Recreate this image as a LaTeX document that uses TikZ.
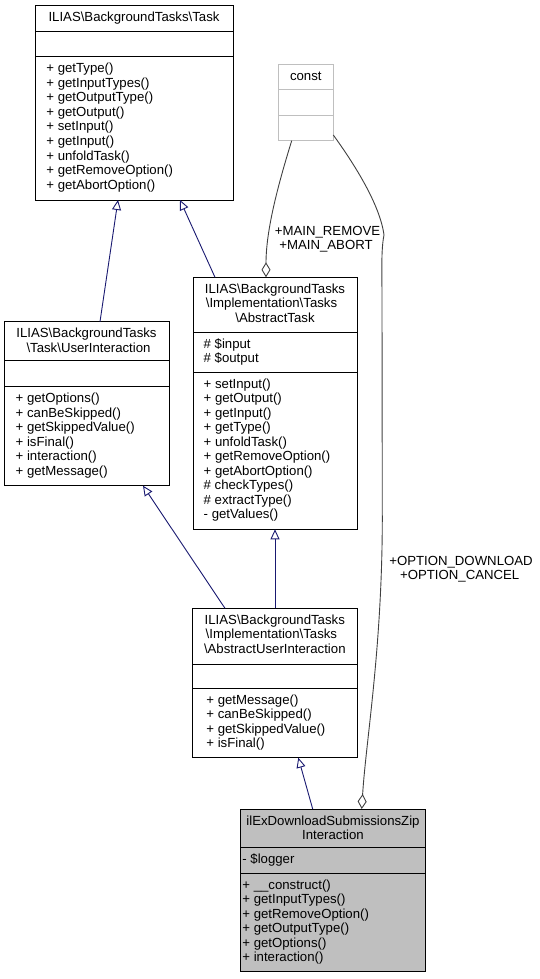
\documentclass[tikz,border=0pt]{standalone}
\usepackage{fontspec}
\setmainfont{Liberation Sans}
\usetikzlibrary{arrows.meta}
\definecolor{edgeblue}{HTML}{191970}
\definecolor{edgegray}{HTML}{404040}
\definecolor{boxgray}{HTML}{BFBFBF}
\newcommand\bsl{\textbackslash}
\tikzset{
  cls/.style={draw=black, line width=1pt, inner sep=0pt, outer sep=0pt, anchor=north west},
  sepline/.style={draw=black, line width=1pt},
  txt/.style={inner sep=0pt, anchor=base west, font=\fontsize{13.2}{14.5}\selectfont},
  ttl/.style={inner sep=0pt, anchor=base, font=\fontsize{13.2}{14.5}\selectfont},
  inherit/.style={draw=edgeblue, line width=0.9pt, -{Triangle[open, length=10pt, width=9pt]}},
  compose/.style={draw=edgegray, line width=0.9pt, -{Diamond[open, length=15pt, width=9pt]}},
}
\begin{document}
\begin{tikzpicture}[x=1pt,y=-1pt]
\useasboundingbox (0,0) rectangle (539,979);

% ---------- Task ----------
\node[cls, minimum width=198pt, minimum height=194pt] (task) at (35,6) {};
\draw[sepline] (35,32) -- (233,32);
\draw[sepline] (35,57) -- (233,57);
\node[ttl] (task-t) at (134,22) {ILIAS\bsl BackgroundTasks\bsl Task};
\foreach \t [count=\i] in {+ getType(), + getInputTypes(), + getOutputType(), + getOutput(), + setInput(), + getInput(), + unfoldTask(), + getRemoveOption(), + getAbortOption()}
  \node[txt] (task-m\i) at (46.2,{73+(\i-1)*14.5}) {\t};

% ---------- const ----------
\node[cls, draw=boxgray, minimum width=55pt, minimum height=76.4pt] (const) at (278.3,64.3) {};
\draw[sepline, draw=boxgray] (278.3,89.7) -- (333.3,89.7);
\draw[sepline, draw=boxgray] (278.3,115.3) -- (333.3,115.3);
\node[ttl] (const-t) at (305.8,80.3) {const};

% ---------- UserInteraction ----------
\node[cls, minimum width=164.6pt, minimum height=164pt] (ui) at (4.7,321.7) {};
\draw[sepline] (4.7,360.7) -- (169.3,360.7);
\draw[sepline] (4.7,386.7) -- (169.3,386.7);
\node[ttl] (ui-t1) at (86.5,337.7) {ILIAS\bsl BackgroundTasks};
\node[ttl] (ui-t2) at (88.5,352.2) {\bsl Task\bsl UserInteraction};
\foreach \t [count=\i] in {+ getOptions(), + canBeSkipped(), + getSkippedValue(), + isFinal(), + interaction(), + getMessage()}
  \node[txt] (ui-m\i) at (15.5,{402.7+(\i-1)*14.5}) {\t};

% ---------- AbstractTask ----------
\node[cls, minimum width=164pt, minimum height=252pt] (at) at (193.3,277.3) {};
\draw[sepline] (193.3,332) -- (357.3,332);
\draw[sepline] (193.3,372.3) -- (357.3,372.3);
\node[ttl] (at-t1) at (275,293.3) {ILIAS\bsl BackgroundTasks};
\node[ttl] (at-t2) at (271.5,307.8) {\bsl Implementation\bsl Tasks};
\node[ttl] (at-t3) at (275,322.3) {\bsl AbstractTask};
\foreach \t [count=\i] in {\# \$input, \# \$output}
  \node[txt] (at-a\i) at (203.5,{348+(\i-1)*14.5}) {\t};
\foreach \t [count=\i] in {+ setInput(), + getOutput(), + getInput(), + getType(), + unfoldTask(), + getRemoveOption(), + getAbortOption(), \# checkTypes(), \# extractType(), - getValues()}
  \node[txt] (at-m\i) at (203.5,{388.3+(\i-1)*14.5}) {\t};

% ---------- AbstractUserInteraction ----------
\node[cls, minimum width=164.3pt, minimum height=149.4pt] (aui) at (192.7,608.3) {};
\draw[sepline] (192.7,664) -- (357,664);
\draw[sepline] (192.7,688.3) -- (357,688.3);
\node[ttl] (aui-t1) at (274.8,624.3) {ILIAS\bsl BackgroundTasks};
\node[ttl] (aui-t2) at (271.4,638.8) {\bsl Implementation\bsl Tasks};
\node[ttl] (aui-t3) at (274.8,653.3) {\bsl AbstractUserInteraction};
\foreach \t [count=\i] in {+ getMessage(), + canBeSkipped(), + getSkippedValue(), + isFinal()}
  \node[txt] (aui-m\i) at (206.2,{704.3+(\i-1)*14.5}) {\t};

% ---------- ilExDownloadSubmissionsZipInteraction ----------
\node[cls, fill=boxgray, minimum width=184.6pt, minimum height=162.7pt] (ilex) at (240.7,809) {};
\draw[sepline] (240.7,847.7) -- (425.3,847.7);
\draw[sepline] (240.7,873.3) -- (425.3,873.3);
\node[ttl] (ilex-t1) at (333,825) {ilExDownloadSubmissionsZip};
\node[ttl] (ilex-t2) at (333,839.5) {Interaction};
\node[txt] (ilex-a1) at (242.2,863.7) {- \$logger};
\foreach \t [count=\i] in {+ \_\_construct(), + getInputTypes(), + getRemoveOption(), + getOutputType(), + getOptions(), + interaction()}
  \node[txt] (ilex-m\i) at (242.2,{889.3+(\i-1)*14.5}) {\t};

% ---------- inheritance edges ----------
\draw[inherit] ([xshift=95.3pt]ui.north west) -- ([xshift=83pt]task.south west);
\draw[inherit] ([xshift=21.7pt]at.north west) -- ([xshift=145pt]task.south west);
\draw[inherit] ([xshift=32.3pt]aui.north west) -- ([xshift=138.3pt]ui.south west);
\draw[inherit] ([xshift=82.3pt]aui.north west) -- ([xshift=81.7pt]at.south west);
\draw[inherit] ([xshift=72pt]ilex.north west) -- ([xshift=105.6pt]aui.south west);

% ---------- composition edges ----------
\draw[compose] ([xshift=13.4pt]const.south west) .. controls (278,185) and (266,230) .. ([xshift=72.7pt]at.north west);
\node[ttl] (lbl1a) at (327.5,235) {+MAIN\_REMOVE};
\node[ttl] (lbl1b) at (326,249.3) {+MAIN\_ABORT};

\draw[compose] ([yshift=5.7pt]const.south east) .. controls (355,165) and (380,205) .. (384,235)
  .. controls (381,250) and (382,270) .. (382,300) -- (382.3,520)
  .. controls (382,650) and (366,740) .. ([xshift=121pt]ilex.north west);
\node[ttl] (lbl2a) at (461,565) {+OPTION\_DOWNLOAD};
\node[ttl] (lbl2b) at (459.7,579.5) {+OPTION\_CANCEL};
\end{tikzpicture}
\end{document}
